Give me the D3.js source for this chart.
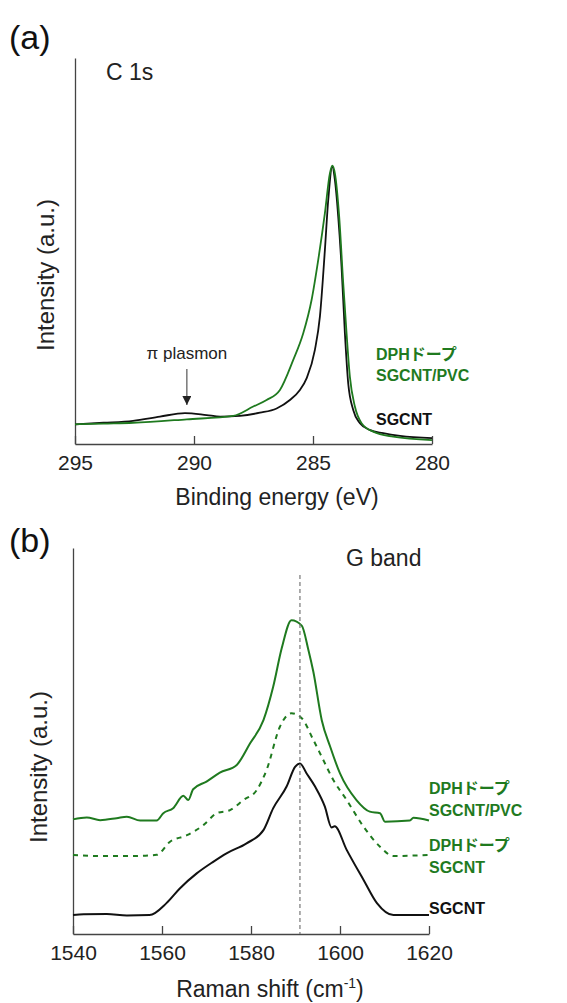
<!DOCTYPE html>
<html>
<head>
<meta charset="utf-8">
<script src="https://cdn.jsdelivr.net/npm/d3@7"></script>
<style>
  body { margin: 0; background: #fff; }
  svg { font-family: "Liberation Sans", Arial, "Noto Sans CJK JP", sans-serif; }
</style>
</head>
<body>
<svg id="chart" width="567" height="1003"></svg>
<script>
// ---- panel (a) XPS C 1s ----
var xpsTicks = [295, 290, 285, 280];
var xpsBlack = [
  [295, 5.1], [293.8, 5.5], [292.56, 6.0], [291.43, 7.1], [290.38, 8.0], [289.47, 7.5],
  [288.9, 7.1], [288.07, 7.3], [287.23, 8.1], [286.53, 9.2], [285.97, 11.4], [285.55, 14.0],
  [285.27, 17.0], [284.92, 24.4], [284.71, 33.0], [284.5, 50.3], [284.36, 63.2], [284.19, 71.8],
  [284.08, 68.4], [283.94, 58.9], [283.8, 45.9], [283.66, 28.7], [283.52, 15.7], [283.31, 8.8],
  [283.03, 5.4], [282.6, 3.6], [282.05, 2.8], [281.34, 2.1], [280, 1.5]
];
var xpsGreen = [
  [295, 5.1], [293.8, 5.3], [292.56, 5.5], [290.3, 6.4], [288.35, 7.3], [287.51, 9.7],
  [286.95, 11.4], [286.39, 14.0], [285.83, 21.8], [285.41, 28.7], [285.06, 37.3], [284.78, 47.7],
  [284.5, 59.8], [284.29, 70.1], [284.19, 72.1], [284.08, 70.1], [283.9, 58.9], [283.73, 41.6],
  [283.59, 28.7], [283.45, 17.4], [283.24, 9.7], [282.96, 5.4], [282.47, 3.2], [281.63, 1.9], [280, 1.0]
];

// ---- panel (b) Raman G band ----
var ramanTicks = [1540, 1560, 1580, 1600, 1620];
var ramanDoped = [
  [1540, 29.7], [1543.1, 30.2], [1546.1, 29.5], [1549.8, 30.0], [1552.1, 30.4], [1555.1, 29.4],
  [1558.8, 29.4], [1560.3, 31.3], [1562.5, 32.6], [1564.8, 35.8], [1565.9, 34.7], [1567, 37.5],
  [1570, 39.5], [1573, 41.8], [1576.8, 43.8], [1579.8, 49.4], [1582.8, 55.4], [1585, 64.1],
  [1586.9, 74.0], [1589.1, 81.3], [1591.4, 79.9], [1592.9, 73.6], [1594, 68.0], [1595.9, 55.4],
  [1597.8, 48.5], [1600, 41.6], [1603.7, 34.7], [1606.7, 31.7], [1609, 31.3], [1610.1, 29.1],
  [1615.7, 29.4], [1616.5, 30.1], [1620, 29.4]
];
var ramanDopedNoPvc = [
  [1540, 20.5], [1546.1, 20.2], [1553.5, 20.2], [1558.8, 20.5], [1561.8, 23.9], [1565.6, 25.6],
  [1569.3, 28.2], [1572.3, 31.3], [1575.3, 32.1], [1578.3, 34.7], [1581.3, 37.3], [1583.5, 42.5],
  [1586.5, 53.7], [1589.1, 57.2], [1591.4, 55.9], [1594, 50.3], [1595.9, 45.9], [1598.5, 39.9],
  [1601.5, 34.7], [1605.3, 27.8], [1609, 22.6], [1612, 20.2], [1620, 20.5]
];
var ramanPristine = [
  [1540, 4.9], [1542.4, 5.1], [1547.6, 5.2], [1552.1, 4.8], [1557.2, 4.9], [1561, 8.0],
  [1564, 11.8], [1567.8, 15.7], [1571.5, 18.7], [1574.5, 20.9], [1579, 23.5], [1582.8, 26.9],
  [1585, 32.6], [1588, 38.2], [1589.9, 43.3], [1591, 44.2], [1592.5, 41.6], [1594.4, 38.2],
  [1596.6, 33.0], [1598.1, 27.6], [1598.8, 27.9], [1601.5, 21.8], [1605.3, 14.0], [1608.3, 8.0],
  [1612, 4.9], [1620, 4.9]
];
var gBandPos = 1591;

var green = "#1f7a1f";
var axisColor = "#444";
var svg = d3.select("#chart");

function drawPanel(cfg) {
  var x = d3.scaleLinear().domain(cfg.xDomain).range([cfg.left, cfg.left + cfg.width]);
  var y = d3.scaleLinear().domain([0, 100]).range([cfg.top + cfg.height, cfg.top]);
  var g = svg.append("g");

  var xAxis = d3.axisBottom(x).tickValues(cfg.ticks).tickSizeInner(-8).tickSizeOuter(0)
    .tickPadding(11).tickFormat(d3.format("d"));
  var gx = g.append("g").attr("transform", "translate(0," + (cfg.top + cfg.height) + ")").call(xAxis);
  gx.select(".domain").attr("stroke", axisColor).attr("stroke-width", 1.3);
  gx.selectAll(".tick line").attr("stroke", axisColor).attr("stroke-width", 1.3);
  gx.selectAll(".tick text").attr("font-size", 21).attr("fill", "#222")
    .attr("font-family", "Liberation Sans, Arial, sans-serif");

  var gy = g.append("g").attr("transform", "translate(" + cfg.left + ",0)")
    .call(d3.axisLeft(y).tickValues([]).tickSizeOuter(0));
  gy.select(".domain").attr("stroke", axisColor).attr("stroke-width", 1.3);

  g.append("text")
    .attr("x", cfg.xLabelX).attr("y", cfg.top + cfg.height + cfg.xLabelDy)
    .attr("text-anchor", "middle").attr("font-size", 23).attr("fill", "#222")
    .html(cfg.xLabel);

  g.append("text")
    .attr("transform", "translate(" + cfg.yLabelX + "," + cfg.yLabelY + ") rotate(-90)")
    .attr("text-anchor", "middle").attr("font-size", 24).attr("fill", "#222")
    .text("Intensity (a.u.)");

  var line = d3.line().x(function (d) { return x(d[0]); }).y(function (d) { return y(d[1]); })
    .curve(d3.curveMonotoneX);

  cfg.series.forEach(function (s) {
    g.append("path").datum(s.data)
      .attr("fill", "none").attr("stroke", s.color).attr("stroke-width", s.width)
      .attr("stroke-dasharray", s.dash || null)
      .attr("stroke-linejoin", "round")
      .attr("d", line);
  });

  return { g: g, x: x, y: y };
}

// panel (a)
var pa = drawPanel({
  xDomain: [295, 280], left: 75, top: 58, width: 357, height: 386, ticks: xpsTicks,
  xLabel: "Binding energy (eV)", xLabelX: 277, xLabelDy: 61,
  yLabelX: 54, yLabelY: 275,
  series: [
    { data: xpsBlack, color: "#111", width: 1.8 },
    { data: xpsGreen, color: green, width: 1.8 }
  ]
});
svg.append("text").attr("x", 9).attr("y", 49).attr("font-size", 34).attr("fill", "#111").text("(a)");
svg.append("text").attr("x", 106).attr("y", 80).attr("font-size", 23).attr("fill", "#222").text("C 1s");
svg.append("text").attr("x", pa.x(290.3)).attr("y", 359).attr("text-anchor", "middle")
  .attr("font-size", 17).attr("fill", "#222").text("π plasmon");
svg.append("defs").append("marker").attr("id", "arr").attr("viewBox", "0 0 10 10")
  .attr("refX", 10).attr("refY", 5).attr("markerWidth", 9).attr("markerHeight", 9)
  .attr("markerUnits", "userSpaceOnUse").attr("orient", "auto")
  .append("path").attr("d", "M0,0 L10,5 L0,10 z").attr("fill", "#222");
svg.append("line").attr("x1", pa.x(290.3)).attr("x2", pa.x(290.3))
  .attr("y1", 369).attr("y2", 405).attr("stroke", "#555").attr("stroke-width", 1.2)
  .attr("marker-end", "url(#arr)");
var labA = svg.append("g").attr("font-size", 16).attr("font-weight", "bold");
labA.append("text").attr("x", 376).attr("y", 360).attr("fill", green).text("DPHドープ");
labA.append("text").attr("x", 376).attr("y", 381).attr("fill", green).text("SGCNT/PVC");
labA.append("text").attr("x", 376).attr("y", 425).attr("fill", "#111").text("SGCNT");

// panel (b)
var pb = drawPanel({
  xDomain: [1540, 1620], left: 73, top: 548, width: 356, height: 386, ticks: ramanTicks,
  xLabel: "Raman shift (cm<tspan dy='-9' font-size='14'>-1</tspan><tspan dy='9'>)</tspan>",
  xLabelX: 270, xLabelDy: 63,
  yLabelX: 47, yLabelY: 767,
  series: [
    { data: ramanPristine, color: "#111", width: 2 },
    { data: ramanDopedNoPvc, color: green, width: 2, dash: "5,5" },
    { data: ramanDoped, color: green, width: 2 }
  ]
});
svg.append("line").attr("x1", pb.x(gBandPos)).attr("x2", pb.x(gBandPos))
  .attr("y1", 575).attr("y2", 934).attr("stroke", "#777").attr("stroke-width", 1.2)
  .attr("stroke-dasharray", "4,3");
svg.append("text").attr("x", 9).attr("y", 552).attr("font-size", 34).attr("fill", "#111").text("(b)");
svg.append("text").attr("x", 346).attr("y", 566).attr("font-size", 23).attr("fill", "#222").text("G band");
var labB = svg.append("g").attr("font-size", 16).attr("font-weight", "bold");
labB.append("text").attr("x", 429).attr("y", 794).attr("fill", green).text("DPHドープ");
labB.append("text").attr("x", 429).attr("y", 816).attr("fill", green).text("SGCNT/PVC");
labB.append("text").attr("x", 429).attr("y", 851).attr("fill", green).text("DPHドープ");
labB.append("text").attr("x", 429).attr("y", 873).attr("fill", green).text("SGCNT");
labB.append("text").attr("x", 429).attr("y", 914).attr("fill", "#111").text("SGCNT");
</script>
</body>
</html>
